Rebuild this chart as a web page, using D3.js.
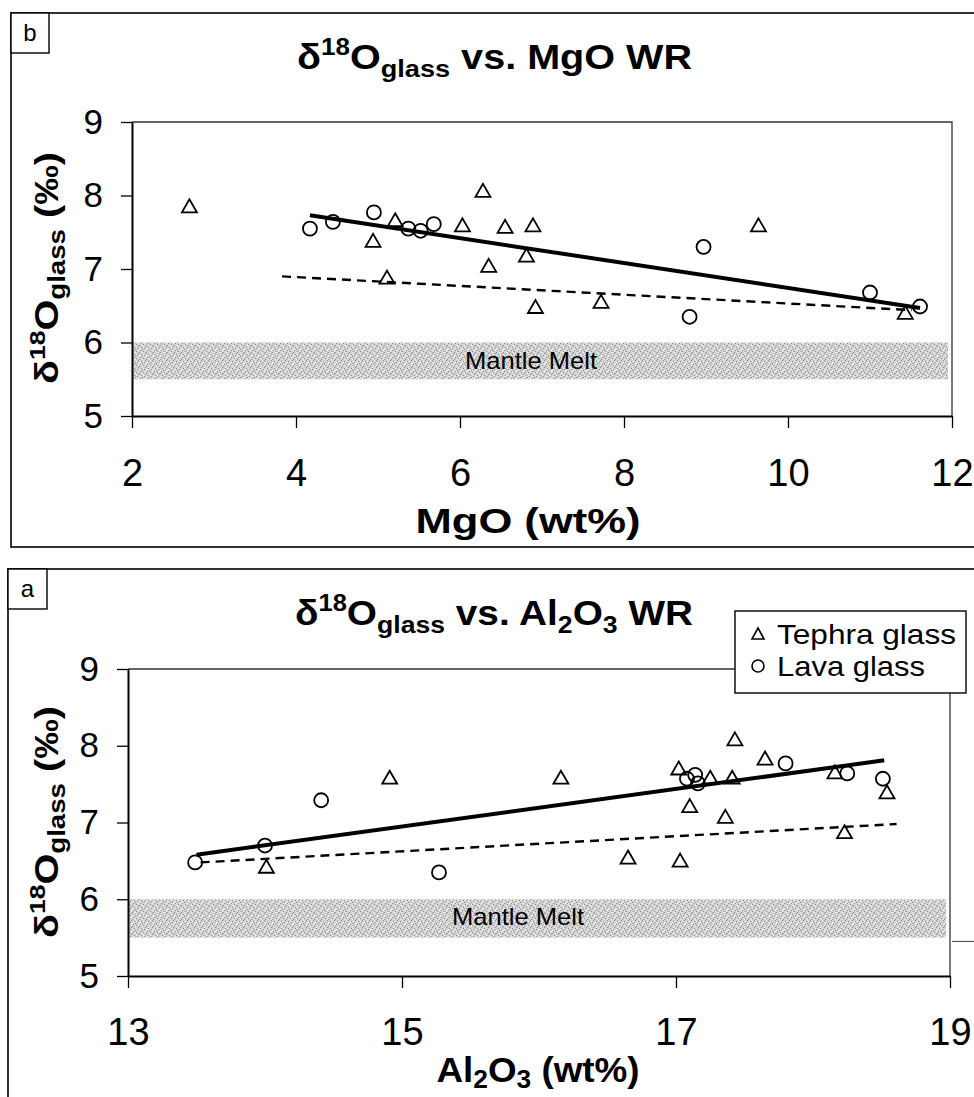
<!DOCTYPE html>
<html><head><meta charset="utf-8">
<script src="https://cdn.jsdelivr.net/npm/d3@7"></script>
<style>
body{margin:0;background:#fff;}
svg{display:block;font-family:"Liberation Sans",Arial,sans-serif;}
</style></head>
<body>
<script>
// ---------- DATA ----------
const yTicks = [5, 6, 7, 8, 9];
const mgoTicks = [2, 4, 6, 8, 10, 12];
const alTicks = [13, 15, 17, 19];
const mantleRange = [5.5, 6.0];

// Panel b: MgO
const mgoTephraX = [2.70, 6.28, 5.21, 4.94, 5.11, 6.03, 6.55, 6.89, 6.35, 6.81, 6.92, 7.72, 9.64, 11.43];
const mgoTephraY = [7.86, 8.07, 7.67, 7.39, 6.89, 7.60, 7.58, 7.60, 7.05, 7.19, 6.49, 6.56, 7.60, 6.41];
const mgoLavaX = [4.17, 4.45, 4.95, 5.37, 5.52, 5.68, 8.97, 8.80, 11.00, 11.61];
const mgoLavaY = [7.55, 7.64, 7.77, 7.55, 7.52, 7.61, 7.30, 6.35, 6.68, 6.49];
const mgoSolidLine = [[4.17, 7.73], [11.61, 6.47]];
const mgoDashedLine = [[3.83, 6.90], [11.51, 6.44]];

// Panel a: Al2O3
const alTephraX = [14.01, 14.91, 16.16, 16.65, 17.03, 17.02, 17.10, 17.25, 17.36, 17.41, 17.43, 17.65, 18.16, 18.23, 18.54];
const alTephraY = [6.43, 7.59, 7.59, 6.55, 6.51, 7.71, 7.22, 7.59, 7.08, 7.59, 8.09, 7.84, 7.66, 6.88, 7.40];
const alLavaX = [13.49, 14.00, 14.41, 15.27, 17.08, 17.14, 17.16, 17.80, 18.25, 18.51];
const alLavaY = [6.48, 6.70, 7.29, 6.35, 7.57, 7.62, 7.51, 7.77, 7.64, 7.57];
const alSolidLine = [[13.50, 6.58], [18.52, 7.81]];
const alDashedLine = [[13.53, 6.48], [18.61, 6.98]];

const legendLabels = ["Tephra glass", "Lava glass"];

// ---------- DRAW ----------
const W = 974, H = 1097;
const svg = d3.select("body").append("svg").attr("width", W).attr("height", H);

// stipple pattern for mantle band
const defs = svg.append("defs");
const pat = defs.append("pattern").attr("id", "stipple").attr("width", 7).attr("height", 7)
  .attr("patternUnits", "userSpaceOnUse");
pat.append("rect").attr("width", 7).attr("height", 7).attr("fill", "#d4d4d4");
[[0,0],[3,1],[5,3],[1,4],[4,5],[2,6],[6,2]].forEach(([a,b]) =>
  pat.append("rect").attr("x", a).attr("y", b).attr("width", 1).attr("height", 1).attr("fill", "#8a8a8a"));
[[2,2],[5,0],[0,5],[6,6],[3,4]].forEach(([a,b]) =>
  pat.append("rect").attr("x", a).attr("y", b).attr("width", 1).attr("height", 1).attr("fill", "#f2f2f2"));

function triPath(cx, cy) {
  const w = 15, h = 13;
  return `M${cx},${cy - h/2}L${cx + w/2},${cy + h/2}L${cx - w/2},${cy + h/2}Z`;
}

function addYTitle(g, cx, cy) {
  const t = g.append("text")
    .attr("transform", `translate(${cx},${cy}) rotate(-90)`)
    .attr("text-anchor", "middle")
    .attr("font-weight", "bold").attr("font-size", 33)
    .attr("textLength", 232).attr("lengthAdjust", "spacingAndGlyphs");
  t.append("tspan").text("δ");
  t.append("tspan").attr("font-size", 22).attr("dy", -13).text("18");
  t.append("tspan").attr("dy", 13).text("O");
  t.append("tspan").attr("font-size", 23).attr("dy", 7).text("glass");
  t.append("tspan").attr("dy", -7).text(" (‰)");
}

function panel(cfg) {
  const g = svg.append("g");
  // outer frame
  g.append("rect").attr("x", cfg.frame[0]).attr("y", cfg.frame[1])
    .attr("width", cfg.frame[2]).attr("height", cfg.frame[3])
    .attr("fill", "none").attr("stroke", "#000").attr("stroke-width", 1.6);
  // letter box
  g.append("rect").attr("x", cfg.letterBox[0]).attr("y", cfg.letterBox[1])
    .attr("width", cfg.letterBox[2]).attr("height", cfg.letterBox[3])
    .attr("fill", "#fff").attr("stroke", "#000").attr("stroke-width", 1.4);
  g.append("text").attr("x", cfg.letterBox[0] + cfg.letterBox[2] / 2)
    .attr("y", cfg.letterBox[1] + cfg.letterBox[3] / 2 + 8)
    .attr("text-anchor", "middle").attr("font-size", 24).text(cfg.letter);

  const x = d3.scaleLinear().domain(cfg.xDomain).range(cfg.xRange);
  const y = d3.scaleLinear().domain([5, 9]).range(cfg.yRange);

  // mantle band
  g.append("rect").attr("x", x(cfg.xDomain[0])).attr("y", y(mantleRange[1]))
    .attr("width", x(cfg.xDomain[1]) - x(cfg.xDomain[0]) - 4)
    .attr("height", y(mantleRange[0]) - y(mantleRange[1]))
    .attr("fill", "url(#stipple)");
  g.append("text").attr("x", cfg.mantleLabel[0]).attr("y", cfg.mantleLabel[1])
    .attr("text-anchor", "middle").attr("font-size", 24)
    .attr("textLength", 132).attr("lengthAdjust", "spacingAndGlyphs")
    .text("Mantle Melt");

  // plot-area border (top/right)
  g.append("path")
    .attr("d", `M${x(cfg.xDomain[0])},${y(9)}H${x(cfg.xDomain[1])}V${y(5)}`)
    .attr("fill", "none").attr("stroke", "#333").attr("stroke-width", 1.3);

  // axes
  const ya = g.append("g").attr("transform", `translate(${x(cfg.xDomain[0])},0)`)
    .call(d3.axisLeft(y).tickValues(yTicks).tickSize(11).tickSizeOuter(0).tickPadding(18).tickFormat(d3.format("d")));
  ya.select(".domain").attr("stroke-width", 2);
  ya.selectAll(".tick line").attr("stroke-width", 1.3);
  ya.selectAll("text").attr("font-size", 35).attr("font-family", "Liberation Sans, Arial, sans-serif");

  const xa = g.append("g").attr("transform", `translate(0,${y(5)})`)
    .call(d3.axisBottom(x).tickValues(cfg.xTicks).tickSize(12).tickSizeOuter(0).tickFormat(d3.format("d")));
  xa.select(".domain").attr("stroke-width", 2);
  xa.selectAll(".tick line").attr("stroke-width", 1.3);
  xa.selectAll("text").attr("font-size", 38).attr("dy", null)
    .attr("y", cfg.xLabelBaseline - y(5))
    .attr("font-family", "Liberation Sans, Arial, sans-serif");

  // trend lines
  const line = d3.line().x(d => x(d[0])).y(d => y(d[1]));
  g.append("path").attr("d", line(cfg.dashed)).attr("fill", "none")
    .attr("stroke", "#000").attr("stroke-width", 2.4).attr("stroke-dasharray", "9,6");
  g.append("path").attr("d", line(cfg.solid)).attr("fill", "none")
    .attr("stroke", "#000").attr("stroke-width", 4);

  // markers
  g.selectAll(".tri").data(d3.range(cfg.tx.length)).join("path")
    .attr("d", i => triPath(x(cfg.tx[i]), y(cfg.ty[i])))
    .attr("fill", "none").attr("stroke", "#000").attr("stroke-width", 1.8);
  g.selectAll(".circ").data(d3.range(cfg.lx.length)).join("circle")
    .attr("cx", i => x(cfg.lx[i])).attr("cy", i => y(cfg.ly[i])).attr("r", 7)
    .attr("fill", "none").attr("stroke", "#000").attr("stroke-width", 1.8);

  // title
  const t = g.append("text").attr("x", cfg.titlePos[0]).attr("y", cfg.titlePos[1])
    .attr("font-weight", "bold").attr("font-size", 35)
    .attr("textLength", cfg.titleLen).attr("lengthAdjust", "spacingAndGlyphs");
  t.append("tspan").text("δ");
  t.append("tspan").attr("font-size", 23).attr("dy", -14).text("18");
  t.append("tspan").attr("dy", 14).text("O");
  t.append("tspan").attr("font-size", 24).attr("dy", 8).text("glass");
  cfg.titleRest(t);

  // x title
  cfg.xTitle(g);
  addYTitle(g, cfg.yTitlePos[0], cfg.yTitlePos[1]);
  return {g, x, y};
}

// Panel b (top)
panel({
  frame: [11, 13, 1000, 534], letterBox: [11, 13, 38, 40], letter: "b",
  xDomain: [2, 12], xRange: [132, 952], yRange: [416, 122], xTicks: mgoTicks,
  xLabelBaseline: 486, mantleLabel: [531, 369],
  solid: mgoSolidLine, dashed: mgoDashedLine,
  tx: mgoTephraX, ty: mgoTephraY, lx: mgoLavaX, ly: mgoLavaY,
  titlePos: [297, 69], titleLen: 395,
  titleRest: t => { t.append("tspan").attr("dy", -8).text(" vs. MgO WR"); },
  xTitle: g => g.append("text").attr("x", 528).attr("y", 533).attr("text-anchor", "middle")
    .attr("font-weight", "bold").attr("font-size", 35)
    .attr("textLength", 225).attr("lengthAdjust", "spacingAndGlyphs").text("MgO (wt%)"),
  yTitlePos: [58, 268]
});

// Panel a (bottom)
const pa = panel({
  frame: [8, 569, 1000, 560], letterBox: [8, 569, 39, 40], letter: "a",
  xDomain: [13, 19], xRange: [128, 950], yRange: [976, 669], xTicks: alTicks,
  xLabelBaseline: 1045, mantleLabel: [518, 925],
  solid: alSolidLine, dashed: alDashedLine,
  tx: alTephraX, ty: alTephraY, lx: alLavaX, ly: alLavaY,
  titlePos: [295, 625], titleLen: 398,
  titleRest: t => {
    t.append("tspan").attr("dy", -8).text(" vs. Al");
    t.append("tspan").attr("font-size", 24).attr("dy", 8).text("2");
    t.append("tspan").attr("dy", -8).text("O");
    t.append("tspan").attr("font-size", 24).attr("dy", 8).text("3");
    t.append("tspan").attr("dy", -8).text(" WR");
  },
  xTitle: g => {
    const t = g.append("text").attr("x", 538).attr("y", 1082).attr("text-anchor", "middle")
      .attr("font-weight", "bold").attr("font-size", 35)
      .attr("textLength", 203).attr("lengthAdjust", "spacingAndGlyphs");
    t.append("tspan").text("Al");
    t.append("tspan").attr("font-size", 25).attr("dy", 6).text("2");
    t.append("tspan").attr("dy", -6).text("O");
    t.append("tspan").attr("font-size", 25).attr("dy", 6).text("3");
    t.append("tspan").attr("dy", -6).text(" (wt%)");
  },
  yTitlePos: [58, 822]
});

// small stub line right of plot in panel a
svg.append("line").attr("x1", 952).attr("x2", 974).attr("y1", pa.y(5.45)).attr("y2", pa.y(5.45))
  .attr("stroke", "#555").attr("stroke-width", 1.2);

// legend (panel a)
const lg = svg.append("g");
lg.append("rect").attr("x", 735).attr("y", 611).attr("width", 231).attr("height", 82)
  .attr("fill", "#fff").attr("stroke", "#000").attr("stroke-width", 1.4);
lg.append("path").attr("d", `M758,628L764,639L752,639Z`).attr("fill", "none")
  .attr("stroke", "#000").attr("stroke-width", 1.6);
lg.append("circle").attr("cx", 758).attr("cy", 666).attr("r", 6).attr("fill", "none")
  .attr("stroke", "#000").attr("stroke-width", 1.6);
lg.selectAll(".lt").data(legendLabels).join("text")
  .attr("x", 777).attr("y", (d, i) => 644 + i * 32)
  .attr("font-size", 28)
  .attr("textLength", (d, i) => i === 0 ? 179 : 148).attr("lengthAdjust", "spacingAndGlyphs")
  .text(d => d);
</script>
</body></html>
